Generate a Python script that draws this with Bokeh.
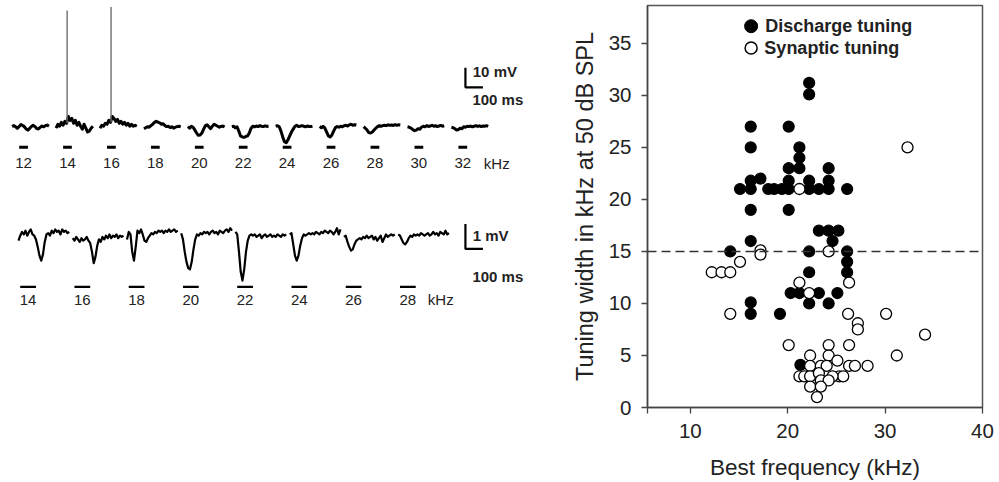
from bokeh.plotting import figure
from bokeh.models import Range1d, FixedTicker, Span
from bokeh.layouts import row
from bokeh.embed import file_html
from bokeh.resources import INLINE
from bokeh.core.properties import value

FONT = "Liberation Sans"
INK = "#222222"

# ---------------- Left panel data: membrane potential traces ----------------
# Top row: discharge recordings (mV relative to resting baseline), 10 ms samples
top_freqs = [12, 14, 16, 18, 20, 22, 24, 26, 28, 30, 32]
top_dt = 10
top_traces = [
    [0.3, 0.8, 0.2, -0.6, 0.4, 1.4, 0.9, 0.2, -0.9, -1.5, -0.6, 0.4, 1.0, 0.3, -0.7, -0.9, -0.1, 0.6, 0.2, 0.8, 1.1, 0.5],
    [-0.5, 1.5, 0.5, 2.5, 1.0, 3.0, 2.0, 5.5, 3.5, 4.5, 2.0, 3.5, 1.0, 2.5, 0.5, -1.0, 1.5, -0.5, -2.5, -2.0, -0.5, 0.5],
    [-0.5, 1.0, 0.5, 2.0, 1.5, 3.5, 2.5, 5.5, 4.5, 3.0, 4.0, 2.0, 3.0, 1.5, 2.5, 1.0, 2.0, 0.5, 1.5, 0.5, 1.0, 0.5],
    [-0.8, -0.3, 0.2, 0.0, 0.8, 1.5, 2.5, 3.0, 2.6, 2.2, 1.5, 1.8, 0.8, 0.3, 0.5, -0.2, 0.2, -0.5, 0.0, 0.3, 0.5, 0.2],
    [0.3, -0.5, 0.5, 0.0, -1.5, -3.0, -4.2, -4.0, -3.0, -1.0, 0.8, 1.2, 0.2, -0.8, 0.5, 1.5, 1.0, 0.5, 0.0, 0.4, 0.6, 0.2],
    [0.3, 0.5, -0.3, 0.2, -2.0, -4.5, -5.0, -5.2, -4.8, -4.5, -3.0, -0.5, 0.5, 0.2, 0.6, 0.3, 0.8, 0.5, 0.3, 0.7, 0.4, 0.6],
    [0.5, 0.8, 0.2, -2.0, -5.0, -7.5, -8.0, -6.5, -4.5, -2.5, -1.0, 0.5, 1.0, 0.3, 0.5, 0.8, 0.5, 0.2, 0.6, 0.4, 0.3, 0.5],
    [0.3, -0.3, 0.4, -0.5, -2.5, -4.5, -5.0, -4.0, -2.0, -0.2, 0.3, 0.0, 0.5, 0.2, 0.8, 1.0, 0.6, 1.2, 1.5, 1.0, 1.3, 1.1],
    [0.2, -0.5, -1.5, -2.8, -3.0, -2.5, -1.5, -0.5, 0.3, 0.8, 0.5, 0.8, 1.0, 0.8, 1.2, 1.0, 1.1, 0.9, 1.3, 1.0, 1.2, 1.1],
    [0.2, 0.0, -0.5, -1.2, -1.8, -1.5, -0.8, -1.0, 0.0, 0.5, 0.2, 0.8, 0.4, 0.6, 1.0, 0.5, 0.8, 0.3, 0.6, 0.9, 0.5, 0.7],
    [0.0, -0.3, -0.8, -1.5, -1.2, -0.5, -0.8, 0.2, 0.0, 0.5, 0.3, 0.6, 0.2, 0.5, 0.8, 0.4, 0.7, 0.3, 0.6, 0.5, 0.8, 0.4],
]
top_stim = [40, 90]            # ms within each sweep
top_spike_freqs = [14, 16]
top_spike_time = 63            # ms within sweep
top_spike_peak = [60, 61.8]    # mV

# Bottom row: synaptic responses (mV), 10 ms samples
bot_freqs = [14, 16, 18, 20, 22, 24, 26, 28]
bot_dt = 10
bot_traces = [
    [-0.15, 0.05, 0.2, 0.1, 0.25, 0.05, 0.2, 0.3, 0.1, 0.05, -0.1, -0.4, -0.75, -0.95, -0.7, -0.2, 0.1, 0.15, 0.05, 0.25, 0.15, 0.3, 0.2, 0.25, 0.1, 0.3, 0.2, 0.25, 0.15, 0.2],
    [-0.05, -0.15, 0.0, -0.1, -0.2, -0.05, -0.15, -0.1, 0.0, -0.15, -0.25, -0.6, -1.05, -0.8, -0.35, -0.1, -0.2, 0.0, -0.1, 0.05, -0.05, 0.1, -0.05, 0.05, 0.0, 0.1, -0.05, 0.05, 0.0, 0.05],
    [-0.1, 0.2, 0.1, -0.6, -0.95, -0.4, 0.25, 0.15, 0.3, 0.1, -0.15, -0.2, -0.05, 0.05, 0.15, 0.1, 0.2, 0.15, 0.25, 0.2, 0.25, 0.15, 0.25, 0.2, 0.3, 0.2, 0.25, 0.3, 0.2, 0.25],
    [0.15, -0.1, -0.6, -1.0, -1.25, -1.3, -1.0, -0.5, -0.1, 0.1, 0.05, 0.15, 0.1, 0.2, 0.15, 0.2, 0.1, 0.2, 0.25, 0.15, 0.2, 0.1, 0.25, 0.2, 0.15, 0.25, 0.3, 0.2, 0.35, 0.25],
    [0.2, 0.1, -0.6, -1.4, -1.75, -1.3, -0.6, -0.15, 0.05, 0.1, 0.05, 0.1, 0.0, 0.05, 0.1, -0.05, 0.05, 0.1, 0.0, 0.05, 0.1, 0.0, 0.05, 0.0, 0.1, 0.05, 0.0, 0.1, 0.05, 0.1],
    [0.1, 0.15, -0.3, -0.75, -0.95, -0.75, -0.35, -0.05, 0.1, 0.05, 0.1, 0.15, 0.1, 0.15, 0.1, 0.2, 0.15, 0.1, 0.2, 0.15, 0.25, 0.2, 0.15, 0.25, 0.2, 0.1, 0.2, 0.35, 0.1, 0.3],
    [0.0, 0.05, -0.2, -0.4, -0.55, -0.5, -0.3, -0.15, -0.1, -0.05, -0.1, 0.0, -0.05, 0.05, -0.05, 0.0, 0.05, -0.1, 0.0, -0.15, -0.05, 0.05, -0.2, -0.05, 0.1, 0.0, 0.05, 0.1, 0.05, 0.1],
    [0.1, 0.05, -0.1, -0.25, -0.3, -0.2, -0.05, 0.05, 0.0, 0.1, 0.05, 0.1, 0.05, 0.15, 0.1, 0.05, 0.1, 0.15, 0.05, 0.1, 0.2, 0.1, 0.15, 0.05, 0.2, 0.15, 0.1, 0.25, 0.1, 0.15],
]
bot_stim = [10, 100]

# scale bars
top_scale = {"mv": 10, "ms": 100, "mv_label": "10 mV", "ms_label": "100 ms"}
bot_scale = {"mv": 1, "ms": 100, "mv_label": "1 mV", "ms_label": "100 ms"}

# ---------------- Right panel data: tuning widths ----------------
discharge_bf = [15.1, 16.2, 16.2, 17.2, 16.2, 16.2, 14.1, 16.2, 16.2, 19.2, 20.1,
                18.0, 18.6, 19.4, 20.1, 20.1, 16.2, 16.2, 20.1, 20.1, 21.2, 21.2, 21.2,
                22.2, 22.2, 22.2, 22.2, 23.2, 24.2, 24.2, 24.2, 26.1,
                22.2, 22.2, 20.3, 21.2, 22.2, 23.2, 24.2, 25.1, 23.2, 24.2, 25.2,
                24.6, 26.1, 26.1, 26.1, 21.3]
discharge_w = [21, 21, 21.8, 22, 19, 16, 15, 10.1, 9, 9, 19,
               21, 21, 21, 21, 21.8, 25, 27, 27, 23, 25, 24, 23,
               31.2, 30.1, 21.8, 21, 21, 21, 21.8, 23, 21,
               15, 13, 11, 11, 10, 11, 10, 11, 17, 17, 17,
               16, 15, 14, 13, 4.1]
synaptic_bf = [12.2, 13.2, 14.1, 15.1, 17.2, 17.2, 14.1, 21.2, 32.3,
               21.2, 22.2, 24.2, 26.3, 26.2, 27.2, 27.2, 30.1, 34.1, 31.2,
               20.1, 24.2, 26.3, 22.3, 24.2, 25.1,
               22.3, 23.4, 24.0, 26.3, 26.9, 28.2,
               21.2, 21.7, 22.3, 23.2, 25.3, 25.7, 24.6,
               23.4, 24.2, 22.3, 23.4, 23.0]
synaptic_w = [13, 13, 13, 14, 15.1, 14.7, 9, 21, 25,
              12, 11, 15, 12, 9, 8.1, 7.5, 9, 7, 5,
              6, 6, 6, 5, 5, 4.5,
              4, 4, 4, 4, 4, 4,
              3, 3, 3, 3.3, 3, 3, 3,
              2.6, 2.6, 2, 2, 1]
threshold = 15
legend_labels = ["Discharge tuning", "Synaptic tuning"]
x_ticks = [10, 20, 30, 40]
y_ticks = [0, 5, 10, 15, 20, 25, 30, 35]

# ================= Left figure =================
TOP_T0, TOP_STEP = 21, 251
BOT_T0, BOT_STEP = 57, 310
SCALE_T = 2611

# frame spans page y 5..408 (aligned with the right panel's frame)
left = figure(width=568, height=482, x_range=Range1d(-45.7, 3200), y_range=Range1d(-144.1, 62.56),
              output_backend="svg", toolbar_location=None,
              x_axis_location=None, y_axis_location=None,
              min_border_left=0, min_border_right=0, min_border_top=5, min_border_bottom=74)
left.grid.visible = False
left.outline_line_color = None
left.extra_y_ranges = {"bot": Range1d(-6.84, 9.28)}

LBL = "15px"

# top row traces
for i, (f, tr) in enumerate(zip(top_freqs, top_traces)):
    off = TOP_T0 + i * TOP_STEP
    ts = [off + k * top_dt for k in range(len(tr))]
    left.line(ts, tr, line_color="black", line_width=3.0, line_join="round")
    if f in top_spike_freqs:
        j = top_spike_freqs.index(f)
        base = tr[round(top_spike_time / top_dt)]
        left.segment(x0=[off + top_spike_time], y0=[base], x1=[off + top_spike_time],
                     y1=[top_spike_peak[j]], line_color="#6e6e6e", line_width=1.4)
    left.segment(x0=[off + top_stim[0]], y0=[-10.3], x1=[off + top_stim[1]], y1=[-10.3],
                 line_color="black", line_width=2.8)
    left.text(x=[off + sum(top_stim) / 2], y=[-18.5], text=[str(f)], text_align="center",
              text_baseline="middle", text_font=value(FONT), text_font_size=LBL, text_color=INK)
last_top = TOP_T0 + (len(top_freqs) - 1) * TOP_STEP + sum(top_stim) / 2
left.text(x=[last_top + 120], y=[-18.5], text=["kHz"], text_align="left", text_baseline="middle",
          text_font=value(FONT), text_font_size=LBL, text_color=INK)

# bottom row traces
for i, (f, tr) in enumerate(zip(bot_freqs, bot_traces)):
    off = BOT_T0 + i * BOT_STEP
    ts = [off + k * bot_dt for k in range(len(tr))]
    left.line(ts, tr, line_color="black", line_width=2.2, line_join="round", y_range_name="bot")
    left.segment(x0=[off + bot_stim[0]], y0=[-2.0], x1=[off + bot_stim[1]], y1=[-2.0],
                 line_color="black", line_width=2.2, y_range_name="bot")
    left.text(x=[off + sum(bot_stim) / 2], y=[-2.52], text=[str(f)], text_align="center",
              text_baseline="middle", text_font=value(FONT), text_font_size=LBL, text_color=INK,
              y_range_name="bot")
last_bot = BOT_T0 + (len(bot_freqs) - 1) * BOT_STEP + sum(bot_stim) / 2
left.text(x=[last_bot + 114], y=[-2.52], text=["kHz"], text_align="left", text_baseline="middle",
          text_font=value(FONT), text_font_size=LBL, text_color=INK, y_range_name="bot")

# scale bars
def scale_bar(sc, y0, mv_text_y, ms_text_y, rng):
    kw = {} if rng is None else {"y_range_name": rng}
    left.line([SCALE_T, SCALE_T, SCALE_T + sc["ms"]], [y0 + sc["mv"], y0, y0],
              line_color="black", line_width=2.2, **kw)
    left.text(x=[SCALE_T + 42], y=[mv_text_y], text=[sc["mv_label"]], text_align="left",
              text_baseline="middle", text_font=value(FONT), text_font_size=LBL,
              text_font_style="bold", text_color=INK, **kw)
    left.text(x=[SCALE_T + 40], y=[ms_text_y], text=[sc["ms_label"]], text_align="left",
              text_baseline="middle", text_font=value(FONT), text_font_size=LBL,
              text_font_style="bold", text_color=INK, **kw)

scale_bar(top_scale, 20.5, 28.7, 14.4, None)
scale_bar(bot_scale, -0.48, 0.04, -1.6, "bot")

# ================= Right figure =================
right = figure(width=431, height=482, x_range=Range1d(5.6, 40), y_range=Range1d(0, 38.64),
               output_backend="svg", toolbar_location=None,
               min_border_left=78, min_border_right=17, min_border_top=5, min_border_bottom=74)
right.grid.visible = False
right.outline_line_color = "#555555"
right.outline_line_width = 1.5

right.xaxis.ticker = FixedTicker(ticks=x_ticks, minor_ticks=[5.6])
right.yaxis.ticker = FixedTicker(ticks=y_ticks)
for ax in (right.xaxis, right.yaxis):
    ax.axis_line_color = "#444444"
    ax.axis_line_width = 1.5
    ax.major_tick_line_color = "#444444"
    ax.major_tick_line_width = 1.3
    ax.major_tick_in = 0
    ax.major_tick_out = 6
    ax.major_label_text_font = FONT
    ax.major_label_text_font_size = "20.5px"
    ax.major_label_text_color = INK
    ax.axis_label_text_font = FONT
    ax.axis_label_text_font_style = "normal"
    ax.axis_label_text_color = INK
right.xaxis.axis_label_text_font_size = "22.5px"
right.yaxis.axis_label_text_font_size = "23.5px"
right.xaxis.minor_tick_in = 0
right.xaxis.minor_tick_out = 6
right.xaxis.minor_tick_line_color = "#444444"
right.xaxis.minor_tick_line_width = 1.3
right.yaxis.minor_tick_line_color = None
right.xaxis.major_label_standoff = 10
right.yaxis.major_label_standoff = 10
right.xaxis.axis_label_standoff = 14
right.yaxis.axis_label_standoff = 8
right.xaxis.axis_label = "Best frequency (kHz)"
right.yaxis.axis_label = "Tuning width in kHz at 50 dB SPL"

right.add_layout(Span(location=threshold, dimension="width", line_color="#333333",
                      line_width=1.5, line_dash="9 5"))

right.scatter(discharge_bf, discharge_w, marker="circle", size=11, fill_color="black",
              line_color="black", line_width=1.2)
right.scatter(synaptic_bf, synaptic_w, marker="circle", size=11, fill_color="white",
              line_color="black", line_width=1.3)

# legend (manual)
right.scatter([16.24], [36.65], marker="circle", size=13, fill_color="black", line_color="black")
right.scatter([16.24], [34.55], marker="circle", size=12, fill_color="white", line_color="black",
              line_width=1.5)
right.text(x=[17.7, 17.6], y=[36.65, 34.55], text=legend_labels, text_align="left",
           text_baseline="middle", text_font=value(FONT), text_font_size="18px",
           text_font_style="bold", text_color=INK)

layout = row(left, right)
open("out.html", "w").write(file_html(layout, INLINE))
